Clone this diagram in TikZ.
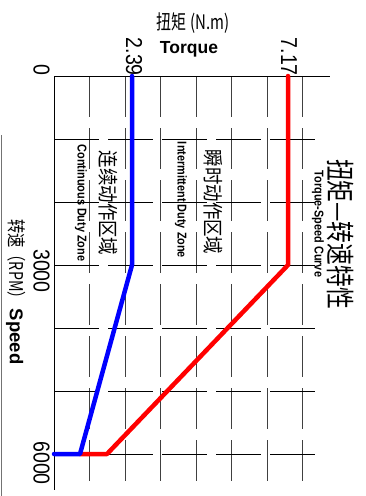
\documentclass[tikz,border=0pt]{standalone}
\usepackage{fontspec}
\setmainfont{Liberation Sans}
\newfontfamily\numfont[FakeStretch=0.85]{Liberation Sans}
\newfontfamily\narrowfont[FakeStretch=0.85]{Liberation Sans}
\newfontfamily\cjkA[FakeStretch=0.75]{Noto Sans CJK SC}
\newfontfamily\cjkB[FakeStretch=0.85]{Noto Sans CJK SC}
\begin{document}
\begin{tikzpicture}[x=1pt,y=-1pt,
  gridv/.style={black!75,line width=0.8pt,dash pattern=on 41pt off 11pt},
  gridh/.style={black,line width=0.8pt,dash pattern=on 45pt off 9pt},
  axisline/.style={black,line width=0.8pt},
  curve/.style={line width=4.5pt,line cap=round,line join=round},
  ticklab/.style={inner sep=0pt,rotate=-90,font=\numfont\fontsize{23}{23}\selectfont},
  zonezh/.style={inner sep=0pt,rotate=-90,font=\cjkB\fontsize{20.5}{20.5}\selectfont},
  zoneen/.style={inner sep=0pt,rotate=-90,font=\narrowfont\bfseries\fontsize{12.8}{12.8}\selectfont}]
\useasboundingbox (0,0) rectangle (366,496);
\fill[white] (0,0) rectangle (366,496);
% grid
\foreach \xx in {89.5,125,160.5,196,231.5,267,302.5}
  \draw[gridv] (\xx,76) -- (\xx,490);
\foreach \yy in {139,202,265,328,391,454}
  \draw[gridh] (54,\yy) -- (315,\yy);
\coordinate (o) at (54,76);
\coordinate (tend) at (330,76);
\coordinate (send) at (54,490);
\draw[axisline] (o) -- (tend);
\draw[axisline] (o) -- (send);
\coordinate (lt) at (1,135);
\coordinate (lb) at (1,496);
\draw[black!55,line width=1pt] (lt) -- (lb);
% curves
\coordinate (r1) at (288,76);
\coordinate (r2) at (288,265);
\coordinate (r3) at (107,454);
\coordinate (r4) at (80,454);
\draw[curve,red] (r1) -- (r2) -- (r3) -- (r4);
\coordinate (b1) at (132,76);
\coordinate (b2) at (132,265);
\coordinate (b3) at (80,454);
\coordinate (b4) at (54,454);
\draw[curve,blue] (b1) -- (b2) -- (b3) -- (b4);
% tick labels
\node[ticklab,anchor=east] (t239) at (134,76) {2.39};
\node[ticklab,anchor=east] (t717) at (289,76) {7.17};
\node[ticklab] (s0) at (41.5,70) {0};
\node[ticklab] (s3000) at (41.5,271) {3000};
\node[ticklab] (s6000) at (41.5,463) {6000};
% axis titles
\node[inner sep=0pt] (tzh) at (193,23) {\cjkA\fontsize{20}{20}\selectfont 扭矩 (N.m)};
\node[inner sep=0pt,font=\bfseries\fontsize{17.5}{17.5}\selectfont] (ten) at (189,49) {Torque};
\node[inner sep=0pt,rotate=-90,anchor=west] (spd) at (16,219) {{\cjkA\fontsize{19}{19}\selectfont 转速（RPM）}\hspace{3pt}{\bfseries\fontsize{18.5}{18.5}\selectfont Speed}};
% zones
\node[zonezh] (czh) at (108,203) {连续动作区域};
\node[zoneen] (cen) at (81,203) {Continuous Duty Zone};
\node[zonezh] (izh) at (213,202) {瞬时动作区域};
\node[zoneen] (ien) at (181,200) {Intermittent Duty Zone};
% title
\node[inner sep=0pt,rotate=-90] (title) at (341,234) {\cjkA\fontsize{29}{29}\selectfont 扭矩—转速特性};
\node[zoneen] (tsen) at (318,224) {Torque-Speed Curve};
\end{tikzpicture}
\end{document}
